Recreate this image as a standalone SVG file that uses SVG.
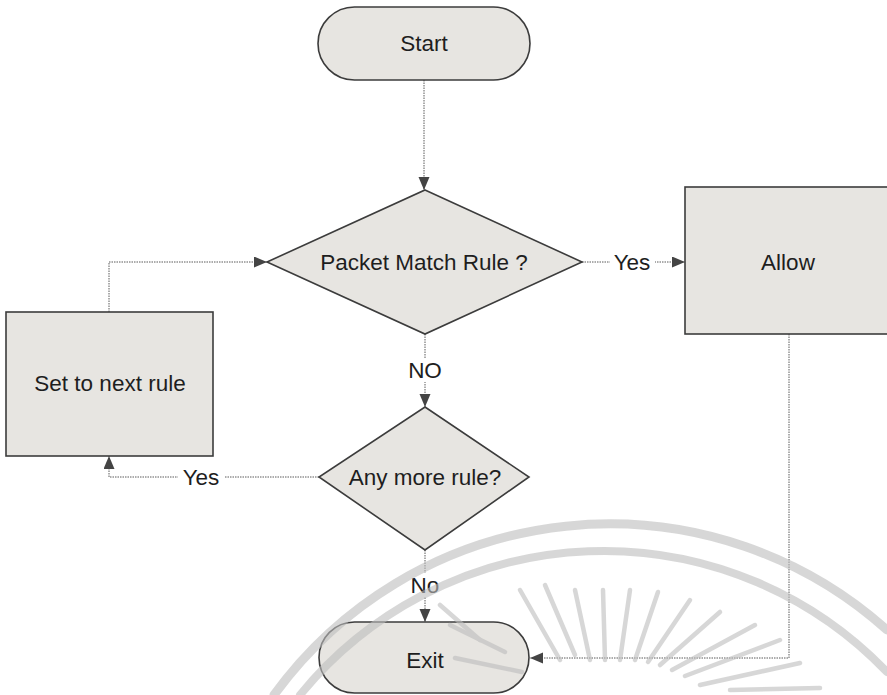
<svg xmlns="http://www.w3.org/2000/svg" width="887" height="695" viewBox="0 0 887 695">
  <style>
    .shape { fill: #e7e5e1; stroke: #3c3c3c; stroke-width: 1.6; }
    .label { font-family: "Liberation Sans", Arial, sans-serif; font-size: 22.5px; fill: #1e1e1e; text-anchor: middle; dominant-baseline: central; }
    .edge { fill: none; stroke: #5a5a5a; stroke-width: 1; stroke-dasharray: 1.5 1; }
    .tag { fill: #ffffff; }
    .seal { fill: none; stroke: #bdbdbd; stroke-linecap: round; opacity: 0.6; }
  </style>
  <defs>
    <marker id="arrow" markerUnits="userSpaceOnUse" markerWidth="14" markerHeight="12" refX="13" refY="5.5" orient="auto">
      <path d="M0,0 L13,5.5 L0,11 z" fill="#444"/>
    </marker>
  </defs>

  <rect width="887" height="695" fill="#ffffff"/>

  <!-- connectors -->
  <g id="connectors">
    <path class="edge" d="M424,80 L424,190" marker-end="url(#arrow)"/>
    <path class="edge" d="M582,262 L685,262" marker-end="url(#arrow)"/>
    <path class="edge" d="M425,334 L425,407" marker-end="url(#arrow)"/>
    <path class="edge" d="M319,477 L109,477 L109,456" marker-end="url(#arrow)"/>
    <path class="edge" d="M109,312 L109,262 L267,262" marker-end="url(#arrow)"/>
    <path class="edge" d="M425,550 L425,622" marker-end="url(#arrow)"/>
    <path class="edge" d="M789,334 L789,658 L530,658" marker-end="url(#arrow)"/>

    <rect class="tag" x="610" y="250" width="45" height="24"/>
    <text class="label" x="632" y="262">Yes</text>
    <rect class="tag" x="402" y="358" width="46" height="24"/>
    <text class="label" x="425" y="370">NO</text>
    <rect class="tag" x="178" y="465" width="46" height="24"/>
    <text class="label" x="201" y="477">Yes</text>
    <rect class="tag" x="408" y="573" width="34" height="24"/>
    <text class="label" x="425" y="585">No</text>
  </g>

  <g id="start">
    <rect class="shape" x="318" y="7" width="212" height="73" rx="36.5" ry="36.5"/>
    <text class="label" x="424" y="43">Start</text>
  </g>

  <g id="packet-match">
    <polygon class="shape" points="425,190 582,262 425,334 267,262"/>
    <text class="label" x="424" y="262">Packet Match Rule ?</text>
  </g>

  <g id="allow">
    <rect class="shape" x="685" y="187" width="210" height="147"/>
    <text class="label" x="788" y="262">Allow</text>
  </g>

  <g id="next-rule">
    <rect class="shape" x="6" y="312" width="207" height="144"/>
    <text class="label" x="110" y="383">Set to next rule</text>
  </g>

  <g id="more-rules">
    <polygon class="shape" points="425,407 529,477 425,550 319,477"/>
    <text class="label" x="425" y="477">Any more rule?</text>
  </g>

  <g id="exit">
    <rect class="shape" x="319" y="622" width="210" height="71" rx="35.5" ry="35.5"/>
    <text class="label" x="425" y="660">Exit</text>
  </g>

  <!-- faint seal printed over the lower part of the page -->
  <g id="seal">
    <path class="seal" stroke-width="9" d="M274,695 A415,415 0 0 1 887,630"/>
    <path class="seal" stroke-width="8" d="M300,695 A392,392 0 0 1 887,672"/>
    <g class="seal" stroke-width="4.5">
      <line x1="440" y1="605" x2="480" y2="640"/>
      <line x1="450" y1="625" x2="505" y2="652"/>
      <line x1="455" y1="658" x2="522" y2="672"/>
      <line x1="520" y1="590" x2="560" y2="660"/>
      <line x1="545" y1="585" x2="575" y2="655"/>
      <line x1="575" y1="590" x2="590" y2="660"/>
      <line x1="603" y1="590" x2="605" y2="660"/>
      <line x1="630" y1="590" x2="620" y2="660"/>
      <line x1="658" y1="592" x2="635" y2="660"/>
      <line x1="690" y1="600" x2="648" y2="662"/>
      <line x1="720" y1="612" x2="660" y2="665"/>
      <line x1="755" y1="625" x2="672" y2="670"/>
      <line x1="780" y1="640" x2="685" y2="676"/>
      <line x1="800" y1="663" x2="700" y2="685"/>
      <line x1="730" y1="690" x2="820" y2="688"/>
    </g>
  </g>
</svg>
